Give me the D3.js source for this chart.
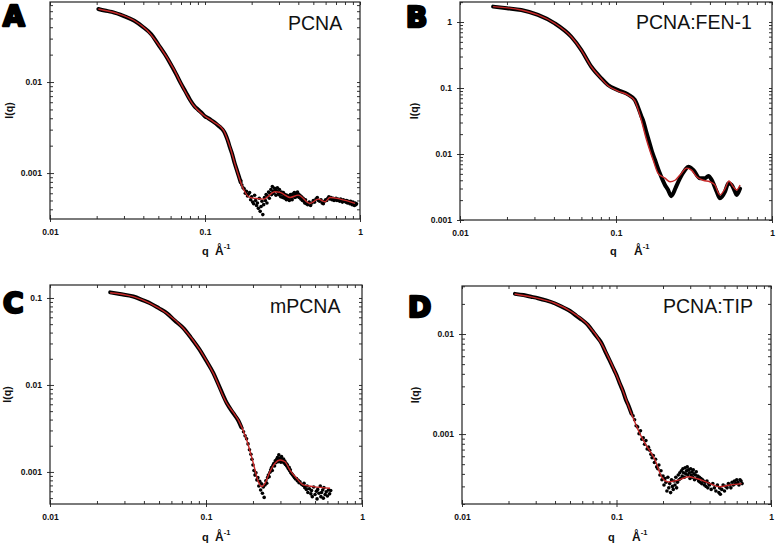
<!DOCTYPE html>
<html><head><meta charset="utf-8">
<script src="https://cdn.jsdelivr.net/npm/d3@7"></script>
<style>body{margin:0;background:#fff}svg{display:block}</style>
</head><body><svg id="c" width="777" height="543"></svg>
<script>
// ---------- Panel A : PCNA ----------
const aFitQ=[0.0205,0.0269,0.0345,0.0421,0.0512,0.0625,0.0724,0.084,0.0975,0.1131,0.1315,0.1448,0.159,0.1725,0.181,0.195,0.2377,0.283,0.305,0.354,0.40,0.476,0.538,0.595,0.64,0.745,0.929];
const aFitI=[0.0634,0.0569,0.048,0.0372,0.0244,0.0141,0.0086,0.00559,0.00434,0.00366,0.00297,0.00195,0.00113,0.00074,0.00062,0.00054,0.000518,0.000624,0.000614,0.00054,0.000573,0.000465,0.000518,0.000484,0.00054,0.000518,0.000465];
const aDenseQ=[0.0205,0.0225,0.025,0.03,0.035,0.04,0.045,0.05,0.055,0.06,0.065,0.07,0.075,0.08,0.085,0.09,0.095,0.1,0.105,0.11,0.115,0.12,0.125,0.13,0.135,0.14,0.145,0.15,0.155,0.16,0.165,0.17];
const aDenseI=[0.0635,0.061,0.059,0.053,0.047,0.040,0.0335,0.0258,0.0203,0.0158,0.0123,0.0096,0.0078,0.0064,0.0055,0.0050,0.0046,0.0042,0.0040,0.0038,0.0036,0.0034,0.0032,0.0030,0.0027,0.0023,0.0019,0.0016,0.0013,0.0011,0.00093,0.00079];
const aScatQ=[0.170,0.173,0.176,0.179,0.182,0.185,0.188,0.191,0.194,0.197,0.200,0.203,0.206,0.209,0.212,0.215,0.218,0.221,0.224,0.227,0.230,0.233,0.236,0.239,0.242,0.245,0.248,0.251,0.254,0.257,0.260,0.263,0.266,0.269,0.272,0.275,0.278,0.281,0.284,0.287,0.290,0.293,0.296,0.299,0.302,0.305,0.308,0.311,0.314,0.317,0.320,0.323,0.326,0.329,0.332,0.335,0.338,0.341,0.344,0.347,0.350,0.353,0.356,0.359,0.362,0.365,0.368,0.371,0.374,0.377,0.380,0.383,0.386,0.389,0.392,0.395,0.398,0.401,0.405,0.41,0.415,0.42,0.425,0.43,0.435,0.44,0.445,0.45,0.46,0.47,0.48,0.49,0.5,0.51,0.52,0.53,0.54,0.55,0.56,0.57,0.58,0.59,0.6,0.61,0.62,0.63,0.64,0.65,0.66,0.67,0.68,0.69,0.7,0.71,0.72,0.73,0.74,0.75,0.76,0.77,0.78,0.79,0.8,0.81,0.82,0.83,0.84,0.85,0.86,0.87,0.88,0.89,0.9,0.91,0.92,0.93,0.94,0.95];
const aScatI=[0.00083,0.00074,0.00069,0.00067,0.00060,0.00063,0.00056,0.00059,0.00061,0.00051,0.00055,0.00048,0.00046,0.00057,0.00050,0.00044,0.00047,0.00041,0.00053,0.00038,0.00043,0.00049,0.00035,0.00045,0.00054,0.00050,0.00058,0.00047,0.00056,0.00062,0.00053,0.00060,0.00066,0.00058,0.00071,0.00063,0.00060,0.00068,0.00065,0.00057,0.00064,0.00069,0.00061,0.00058,0.00066,0.00060,0.00055,0.00062,0.00059,0.00054,0.00061,0.00056,0.00053,0.00058,0.00055,0.00051,0.00057,0.00054,0.00052,0.00056,0.00050,0.00055,0.00058,0.00053,0.00056,0.00051,0.00059,0.00055,0.00057,0.00061,0.00054,0.00058,0.00060,0.00055,0.00058,0.00062,0.00056,0.00059,0.00054,0.00057,0.00052,0.00055,0.00050,0.00053,0.00049,0.00047,0.00051,0.00046,0.00045,0.00048,0.00044,0.00047,0.00050,0.00048,0.00052,0.00054,0.00050,0.00049,0.00051,0.00047,0.00046,0.00049,0.00051,0.00050,0.00053,0.00055,0.00052,0.00054,0.00051,0.00053,0.00050,0.00051,0.00053,0.00050,0.00052,0.00051,0.00049,0.00052,0.00050,0.00048,0.00051,0.00049,0.00050,0.00048,0.00050,0.00047,0.00049,0.00048,0.00046,0.00049,0.00047,0.00045,0.00048,0.00046,0.00044,0.00047,0.00045,0.00046];
const aYTicks=[0.01,0.001];
const aYTickLabels=["0.01","0.001"];

// ---------- Panel B : PCNA:FEN-1 ----------
const bFitQ=[0.0163,0.0247,0.0316,0.0405,0.0517,0.060,0.0695,0.0806,0.0889,0.103,0.1194,0.132,0.1426,0.157,0.173,0.186,0.206,0.222,0.239,0.257,0.284,0.305,0.329,0.362,0.40,0.43,0.464,0.50,0.53,0.564,0.593,0.624];
const bFitI=[1.71,1.52,1.28,0.955,0.598,0.376,0.21,0.138,0.108,0.090,0.078,0.064,0.038,0.0163,0.0081,0.0051,0.0043,0.0038,0.0040,0.0048,0.0061,0.0057,0.00453,0.0040,0.0038,0.0034,0.0024,0.0030,0.0039,0.0032,0.00285,0.0034];
const bDenseQ=[0.0163,0.02,0.0247,0.0316,0.0405,0.0517,0.060,0.0695,0.0806,0.0889,0.103,0.1194,0.132,0.139,0.145,0.15,0.156,0.162,0.17,0.178,0.191,0.206,0.215,0.226,0.232,0.24,0.257,0.277,0.291,0.313,0.345,0.372,0.391,0.411,0.442,0.464,0.50,0.525,0.551,0.579,0.593,0.624];
const bDenseI=[1.71,1.62,1.52,1.28,0.955,0.598,0.376,0.21,0.14,0.111,0.093,0.080,0.066,0.05,0.038,0.031,0.022,0.0163,0.011,0.0081,0.0051,0.0034,0.0029,0.0023,0.0025,0.003,0.00428,0.00573,0.00643,0.00573,0.00428,0.00428,0.00464,0.00403,0.00269,0.00213,0.00269,0.0036,0.0034,0.00269,0.0024,0.003];
const bScatQ=[];
const bScatI=[];
const bYTicks=[1,0.1,0.01,0.001];
const bYTickLabels=["1","0.1","0.01","0.001"];

// ---------- Panel C : mPCNA ----------
const cFitQ=[0.0243,0.0342,0.0438,0.056,0.0716,0.0916,0.1115,0.1358,0.150,0.161,0.1824,0.201,0.2163,0.2275,0.239,0.257,0.277,0.298,0.321,0.345,0.381,0.42,0.487,0.624];
const cFitI=[0.115,0.1035,0.0869,0.0667,0.0449,0.0252,0.0136,0.00616,0.0048,0.00396,0.00233,0.00126,0.000774,0.000678,0.00074,0.00101,0.00126,0.00137,0.00131,0.00105,0.000847,0.00071,0.000678,0.00065];
const cDenseQ=[0.0243,0.028,0.0342,0.04,0.0438,0.05,0.056,0.063,0.0716,0.08,0.0916,0.1,0.1115,0.12,0.1358,0.15,0.161,0.168];
const cDenseI=[0.116,0.111,0.104,0.093,0.087,0.076,0.067,0.055,0.045,0.035,0.025,0.0192,0.0137,0.0102,0.0062,0.0047,0.0039,0.0033];
const cScatQ=[0.170,0.174,0.178,0.182,0.186,0.19,0.194,0.197,0.2,0.203,0.206,0.209,0.212,0.215,0.218,0.221,0.224,0.227,0.23,0.233,0.236,0.239,0.242,0.245,0.248,0.251,0.254,0.257,0.26,0.263,0.266,0.269,0.272,0.275,0.278,0.281,0.284,0.287,0.29,0.293,0.296,0.299,0.302,0.305,0.308,0.311,0.314,0.317,0.32,0.323,0.326,0.329,0.332,0.335,0.338,0.341,0.344,0.347,0.35,0.354,0.358,0.362,0.366,0.37,0.375,0.38,0.385,0.39,0.395,0.4,0.41,0.42,0.425,0.43,0.44,0.445,0.45,0.46,0.47,0.475,0.48,0.49,0.5,0.51,0.515,0.52,0.53,0.54,0.545,0.55,0.56,0.565,0.57,0.58,0.59,0.6,0.61,0.62,0.63];
const cScatI=[0.0032,0.0029,0.0026,0.0024,0.0021,0.0018,0.0016,0.0014,0.0012,0.00104,0.00092,0.00098,0.00081,0.00086,0.00069,0.00078,0.00062,0.00073,0.00057,0.00067,0.00051,0.00071,0.00079,0.00074,0.00086,0.00092,0.00088,0.00099,0.00106,0.00112,0.00104,0.00119,0.00125,0.00117,0.00134,0.00128,0.0014,0.00146,0.00131,0.00157,0.00138,0.00144,0.00129,0.0015,0.00136,0.00131,0.00141,0.00127,0.00133,0.00122,0.00126,0.00117,0.00121,0.00112,0.00108,0.00113,0.00103,0.00106,0.00098,0.00096,0.00093,0.00091,0.00088,0.00086,0.00083,0.00084,0.00079,0.0008,0.00075,0.00077,0.00072,0.0007,0.00074,0.00066,0.00063,0.00069,0.00058,0.00064,0.00056,0.00061,0.00052,0.00067,0.00055,0.0006,0.00049,0.00063,0.00057,0.00069,0.00052,0.00058,0.00062,0.0005,0.00066,0.00055,0.00059,0.00053,0.00062,0.00056,0.00061];
const cYTicks=[0.1,0.01,0.001];
const cYTickLabels=["0.1","0.01","0.001"];

// ---------- Panel D : PCNA:TIP ----------
const dFitQ=[0.0219,0.031,0.0398,0.051,0.0654,0.0798,0.0925,0.1074,0.1247,0.14,0.152,0.1775,0.196,0.2165,0.251,0.292,0.33,0.403,0.467,0.543,0.646];
const dFitI=[0.0251,0.0227,0.0203,0.0167,0.0123,0.00807,0.00509,0.00297,0.00161,0.00105,0.00082,0.00055,0.000374,0.000333,0.000347,0.000374,0.00036,0.00032,0.000297,0.00031,0.00032];
const dDenseQ=[0.022,0.025,0.028,0.031,0.035,0.04,0.045,0.05,0.055,0.06,0.065,0.07,0.075,0.08,0.085,0.09,0.095,0.1,0.105,0.11,0.115,0.12,0.125];
const dDenseI=[0.0252,0.0245,0.0236,0.0228,0.0217,0.0202,0.0185,0.0170,0.0152,0.0138,0.0124,0.0107,0.0093,0.0081,0.0066,0.0055,0.0046,0.0039,0.0032,0.0027,0.0022,0.0019,0.0016];
const dScatQ=[0.128,0.131,0.134,0.137,0.14,0.143,0.146,0.149,0.152,0.155,0.158,0.161,0.164,0.167,0.17,0.173,0.176,0.179,0.182,0.185,0.188,0.191,0.194,0.197,0.2,0.203,0.206,0.209,0.212,0.215,0.218,0.221,0.224,0.227,0.23,0.233,0.236,0.239,0.242,0.245,0.248,0.251,0.254,0.257,0.26,0.263,0.266,0.269,0.272,0.275,0.278,0.281,0.284,0.287,0.29,0.293,0.296,0.299,0.302,0.305,0.308,0.311,0.314,0.317,0.32,0.324,0.328,0.332,0.336,0.34,0.344,0.348,0.352,0.356,0.36,0.365,0.37,0.375,0.38,0.385,0.39,0.395,0.4,0.41,0.42,0.43,0.44,0.45,0.46,0.465,0.47,0.48,0.49,0.5,0.51,0.52,0.53,0.54,0.55,0.56,0.57,0.58,0.59,0.6,0.61,0.62,0.63,0.64,0.65];
const dScatI=[0.00152,0.00139,0.00121,0.00118,0.00101,0.00108,0.00089,0.00092,0.00079,0.00086,0.00071,0.00074,0.00069,0.00063,0.00058,0.00061,0.00052,0.00056,0.00047,0.00045,0.00049,0.00039,0.00043,0.00035,0.00038,0.00031,0.00036,0.00033,0.00027,0.00037,0.00029,0.00032,0.00026,0.00035,0.0003,0.00028,0.00034,0.00031,0.00037,0.00029,0.00033,0.00039,0.00035,0.00041,0.00036,0.00043,0.00038,0.00045,0.00041,0.00037,0.00046,0.0004,0.00043,0.00047,0.00039,0.00044,0.00041,0.00036,0.00045,0.00039,0.00042,0.00037,0.00044,0.0004,0.00035,0.00039,0.00042,0.00036,0.00038,0.00034,0.00037,0.00033,0.00036,0.00032,0.00035,0.00034,0.00031,0.00033,0.0003,0.00034,0.00029,0.00032,0.00031,0.00028,0.00032,0.00029,0.00027,0.00031,0.00026,0.00029,0.00025,0.00028,0.00031,0.00027,0.0003,0.00029,0.00032,0.00031,0.00029,0.00033,0.00031,0.00034,0.00032,0.00035,0.00033,0.00031,0.00035,0.00034,0.00032];
const dYTicks=[0.01,0.001];
const dYTickLabels=["0.01","0.001"];

// ---------- shared ----------
const xDomain=[0.01,1];
const xTickValues=[0.01,0.1,1];
const xTickLabels=["0.01","0.1","1"];

const panels=[
 {letter:"A",title:"PCNA",fitQ:aFitQ,fitI:aFitI,denseQ:aDenseQ,denseI:aDenseI,scatQ:aScatQ,scatI:aScatI,yTicks:aYTicks,yLabels:aYTickLabels,yDomain:[0.000313,0.0757],
  box:{l:50,r:360,t:2,b:219},letterPos:[3,26],titlePos:[288,30],qX:202,aX:215,xLabY:255,yLabX:13},
 {letter:"B",title:"PCNA:FEN-1",fitQ:bFitQ,fitI:bFitI,denseQ:bDenseQ,denseI:bDenseI,scatQ:bScatQ,scatI:bScatI,yTicks:bYTicks,yLabels:bYTickLabels,yDomain:[0.001,2.01],
  box:{l:460,r:772,t:2,b:220},letterPos:[406,27],titlePos:[636,29],qX:610,aX:634,xLabY:255,yLabX:418},
 {letter:"C",title:"mPCNA",fitQ:cFitQ,fitI:cFitI,denseQ:cDenseQ,denseI:cDenseI,scatQ:cScatQ,scatI:cScatI,yTicks:cYTicks,yLabels:cYTickLabels,yDomain:[0.000428,0.141],
  box:{l:50,r:362,t:285,b:504},letterPos:[3,313],titlePos:[270,313],qX:202,aX:215,xLabY:541,yLabX:11},
 {letter:"D",title:"PCNA:TIP",fitQ:dFitQ,fitI:dFitI,denseQ:dDenseQ,denseI:dDenseI,scatQ:dScatQ,scatI:dScatI,yTicks:dYTicks,yLabels:dYTickLabels,yDomain:[0.0002,0.0302],
  box:{l:462,r:771,t:286,b:504},letterPos:[408,317],titlePos:[663,313],qX:608,aX:632,xLabY:541,yLabX:419}
];

const svg=d3.select("#c");
const FONT='"Liberation Sans", Arial, sans-serif';
const tickColor="#333";

function styleAxis(g){
  g.select(".domain").remove();
  g.selectAll("line").attr("stroke",tickColor).attr("stroke-width",1);
  g.selectAll("text").attr("font-family",FONT).attr("font-weight","bold").attr("font-size",8.5).attr("fill","#111");
  g.attr("font-size",null).attr("font-family",null);
}

panels.forEach(p=>{
  const {l,r,t,b}=p.box;
  const x=d3.scaleLog().domain(xDomain).range([l,r]);
  const y=d3.scaleLog().domain(p.yDomain).range([b,t]);
  const g=svg.append("g");
  const xAll=x.ticks(), yAll=y.ticks();
  const xMinor=xAll.filter(v=>!xTickValues.some(m=>Math.abs(m-v)/m<1e-6));
  const yMinor=yAll.filter(v=>!p.yTicks.some(m=>Math.abs(m-v)/m<1e-6));

  g.append("g").attr("transform",`translate(0,${b})`).call(d3.axisBottom(x).tickValues(xMinor).tickSizeInner(-3).tickSizeOuter(0).tickFormat("")).call(styleAxis);
  g.append("g").attr("transform",`translate(0,${t})`).call(d3.axisTop(x).tickValues(xAll).tickSizeInner(-3).tickSizeOuter(0).tickFormat("")).call(styleAxis);
  g.append("g").attr("transform",`translate(${l},0)`).call(d3.axisLeft(y).tickValues(yMinor).tickSizeInner(-3).tickSizeOuter(0).tickFormat("")).call(styleAxis);
  g.append("g").attr("transform",`translate(${r},0)`).call(d3.axisRight(y).tickValues(yAll).tickSizeInner(-3).tickSizeOuter(0).tickFormat("")).call(styleAxis);
  g.append("g").attr("transform",`translate(0,${b})`).call(d3.axisBottom(x).tickValues(xTickValues).tickSizeInner(3).tickSizeOuter(0).tickPadding(7).tickFormat((d,i)=>xTickLabels[i])).call(styleAxis);
  g.append("g").attr("transform",`translate(0,${b})`).call(d3.axisBottom(x).tickValues(xTickValues).tickSizeInner(-4).tickSizeOuter(0).tickFormat("")).call(styleAxis);
  g.append("g").attr("transform",`translate(${l},0)`).call(d3.axisLeft(y).tickValues(p.yTicks).tickSizeInner(3).tickSizeOuter(0).tickPadding(5).tickFormat((d,i)=>p.yLabels[i])).call(styleAxis);
  g.append("g").attr("transform",`translate(${l},0)`).call(d3.axisLeft(y).tickValues(p.yTicks).tickSizeInner(-4).tickSizeOuter(0).tickFormat("")).call(styleAxis);

  g.append("rect").attr("x",l).attr("y",t).attr("width",r-l).attr("height",b-t)
    .attr("fill","none").attr("stroke","#222").attr("stroke-width",1.2);

  const line=d3.line().x(d=>x(d[0])).y(d=>y(d[1])).curve(d3.curveMonotoneX);
  const dense=p.denseQ.map((q,i)=>[q,p.denseI[i]]);
  g.append("path").attr("d",line(dense)).attr("fill","none").attr("stroke","#000")
    .attr("stroke-width",4).attr("stroke-linecap","round").attr("stroke-linejoin","round");
  const scat=p.scatQ.map((q,i)=>[q,p.scatI[i]]);
  g.append("g").selectAll("circle").data(scat).join("circle")
    .attr("cx",d=>x(d[0])).attr("cy",d=>y(d[1])).attr("r",1.8).attr("fill","#000");
  const fit=p.fitQ.map((q,i)=>[q,p.fitI[i]]);
  g.append("path").attr("d",line(fit)).attr("fill","none").attr("stroke","#c62828").attr("stroke-width",1.4);

  g.append("text").attr("x",p.letterPos[0]).attr("y",p.letterPos[1]).text(p.letter)
    .attr("font-family",'"DejaVu Sans", sans-serif').attr("font-weight","bold").attr("font-size",28)
    .attr("stroke","#000").attr("stroke-width",2.6).attr("stroke-linejoin","round").attr("fill","#000");
  g.append("text").attr("x",p.titlePos[0]).attr("y",p.titlePos[1]).text(p.title)
    .attr("font-family",FONT).attr("font-size",19.5).attr("fill","#111");
  g.append("text").attr("transform",`translate(${p.yLabX},${(t+b)/2}) rotate(-90)`).attr("text-anchor","middle")
    .attr("font-family",FONT).attr("font-weight","bold").attr("font-size",10.5).attr("fill","#111").text("I(q)");
  const xl=g.append("text").attr("y",p.xLabY).attr("font-family",FONT).attr("font-weight","bold").attr("fill","#111");
  xl.append("tspan").attr("x",p.qX).attr("font-size",11).text("q");
  xl.append("tspan").attr("x",p.aX).attr("font-size",12).text("Å");
  xl.append("tspan").attr("font-size",7.5).attr("dy",-6).text("-1");
});
</script></body></html>
